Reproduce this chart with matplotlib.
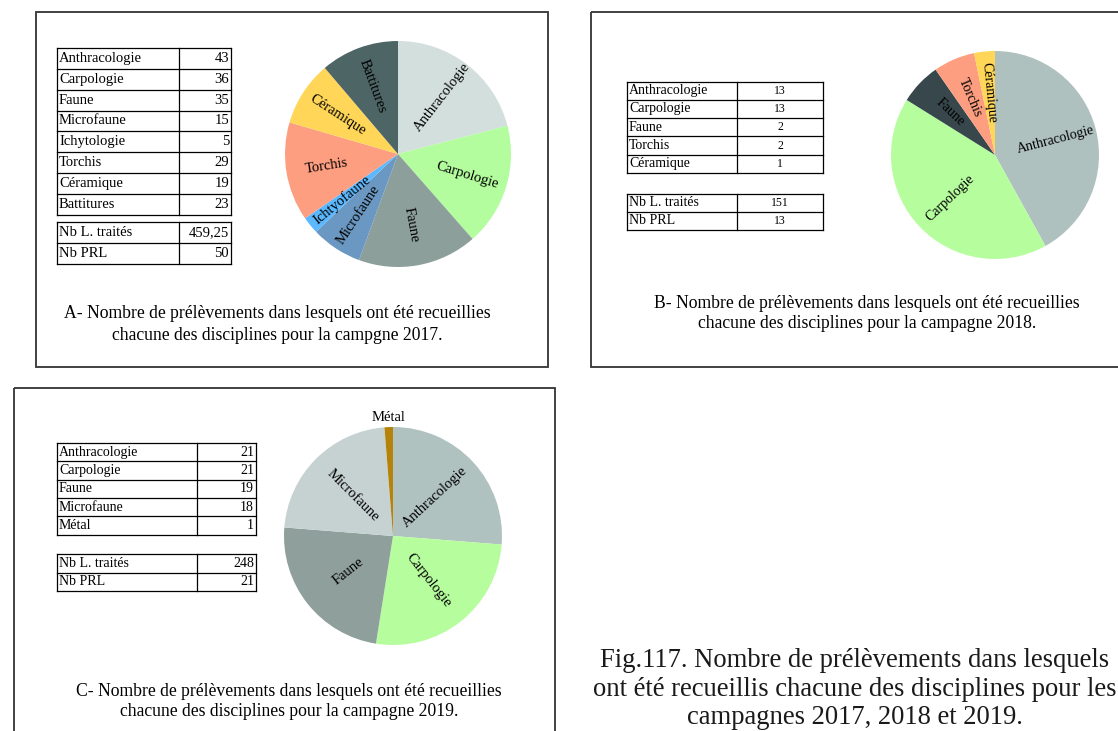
import numpy as np
import matplotlib
matplotlib.use('Agg')
import matplotlib.pyplot as plt
from matplotlib.patches import Rectangle

plt.rcParams['font.family'] = ['Liberation Serif', 'DejaVu Serif']

# campagne 2017
cats_a = ["Anthracologie", "Carpologie", "Faune", "Microfaune", "Ichtyofaune",
          "Torchis", "Céramique", "Battitures"]
vals_a = [43, 36, 35, 15, 5, 29, 19, 23]
table_a = ["Anthracologie", "Carpologie", "Faune", "Microfaune", "Ichytologie",
           "Torchis", "Céramique", "Battitures"]
total_a = [("Nb L. traités", "459,25"), ("Nb PRL", "50")]
colors_a = ["#d3dfdc", "#b3fd9e", "#8d9f9b", "#6b98c2", "#5cb8ff",
            "#fd9e80", "#ffd657", "#4e6566"]

# campagne 2018
cats_b = ["Anthracologie", "Carpologie", "Faune", "Torchis", "Céramique"]
vals_b = [13, 13, 2, 2, 1]
total_b = [("Nb L. traités", "151"), ("Nb PRL", "13")]
colors_b = ["#afc1bf", "#b6fd9e", "#38474c", "#fd9e80", "#ffd657"]

# campagne 2019
cats_c = ["Anthracologie", "Carpologie", "Faune", "Microfaune", "Métal"]
vals_c = [21, 21, 19, 18, 1]
total_c = [("Nb L. traités", "248"), ("Nb PRL", "21")]
colors_c = ["#b0c2bf", "#b6fd9e", "#8e9f9c", "#c6d2d1", "#b5820a"]

W, H = 1118, 731
fig = plt.figure(figsize=(W / 100, H / 100), dpi=100)
bg = fig.add_axes([0, 0, 1, 1])
bg.set_xlim(0, W)
bg.set_ylim(H, 0)
bg.axis('off')


def frame(x0, y0, x1, y1):
    bg.add_patch(Rectangle((x0, y0), x1 - x0, y1 - y0, fill=False,
                           ec="#333333", lw=1.3))


def table(x0, xs, x1, top, rh, names, values, align, fs, vfs=None):
    vfs = vfs or fs
    n = len(names)
    for i in range(n + 1):
        bg.plot([x0, x1], [top + i * rh] * 2, color="black", lw=0.9)
    for x in (x0, xs, x1):
        bg.plot([x, x], [top, top + n * rh], color="black", lw=0.9)
    for i, (name, v) in enumerate(zip(names, values)):
        y = top + (i + 0.5) * rh
        bg.text(x0 + 2, y, name, ha="left", va="center", fontsize=fs)
        if align == "right":
            bg.text(x1 - 2, y, str(v), ha="right", va="center", fontsize=vfs)
        else:
            bg.text((xs + x1) / 2, y, str(v), ha="center", va="center", fontsize=vfs)


def pie(cx, cy, r, vals, cats, colors, lab_r, fs, outside=()):
    ax = fig.add_axes([(cx - r) / W, (H - cy - r) / H, 2 * r / W, 2 * r / H])
    wedges, _ = ax.pie(vals, colors=colors, startangle=90, counterclock=False,
                       wedgeprops=dict(linewidth=0))
    ax.set_xlim(-1, 1)
    ax.set_ylim(-1, 1)
    ax.axis('off')
    for w, name in zip(wedges, cats):
        mid = (w.theta1 + w.theta2) / 2
        rad = np.deg2rad(mid)
        rot = mid if -90 <= ((mid + 180) % 360 - 180) <= 90 else mid + 180
        rot = (rot + 180) % 360 - 180
        d = 1.09 if name in outside else lab_r
        if name in outside:
            rot = 0
        ax.text(d * np.cos(rad), d * np.sin(rad), name, ha="center", va="center",
                rotation=rot, rotation_mode="anchor", fontsize=fs, clip_on=False)


cap_fs = 12.7

# A
frame(36, 12, 548, 367)
table(57, 179, 231, 48, 20.85, table_a, vals_a, "right", 10.5)
table(57, 179, 231, 222, 21, [t[0] for t in total_a], [t[1] for t in total_a], "right", 10.5)
pie(398, 154, 113, vals_a, cats_a, colors_a, 0.64, 10.5)
bg.text(277, 314, "A- Nombre de prélèvements dans lesquels ont été recueillies",
        ha="center", va="center", fontsize=cap_fs)
bg.text(277, 335, "chacune des disciplines pour la campgne 2017.",
        ha="center", va="center", fontsize=cap_fs)

# B
frame(591, 12, W + 5, 367)
table(627, 737, 823, 81.5, 18.3, cats_b, vals_b, "center", 10, vfs=8.5)
table(627, 737, 823, 193.5, 18.3, [t[0] for t in total_b], [t[1] for t in total_b], "center", 10, vfs=8.5)
pie(995, 155, 104, vals_b, cats_b, colors_b, 0.6, 10)
bg.text(867, 303, "B- Nombre de prélèvements dans lesquels ont été recueillies",
        ha="center", va="center", fontsize=cap_fs)
bg.text(867, 324, "chacune des disciplines pour la campagne 2018.",
        ha="center", va="center", fontsize=cap_fs)

# C
frame(14, 388, 555, H + 5)
table(57, 197, 256, 443, 18.3, cats_c, vals_c, "right", 10)
table(57, 197, 256, 554, 18.5, [t[0] for t in total_c], [t[1] for t in total_c], "right", 10)
pie(393, 536, 109, vals_c, cats_c, colors_c, 0.52, 10.5, outside=("Métal",))
bg.text(289, 691, "C- Nombre de prélèvements dans lesquels ont été recueillies",
        ha="center", va="center", fontsize=cap_fs)
bg.text(289, 712, "chacune des disciplines pour la campagne 2019.",
        ha="center", va="center", fontsize=cap_fs)

bg.text(855, 689, "Fig.117. Nombre de prélèvements dans lesquels\n"
        "ont été recueillis chacune des disciplines pour les\n"
        "campagnes 2017, 2018 et 2019.",
        ha="center", va="center", fontsize=19.2, color="#1a1a1a", linespacing=1.17)

fig.savefig("out.png", dpi=100)
